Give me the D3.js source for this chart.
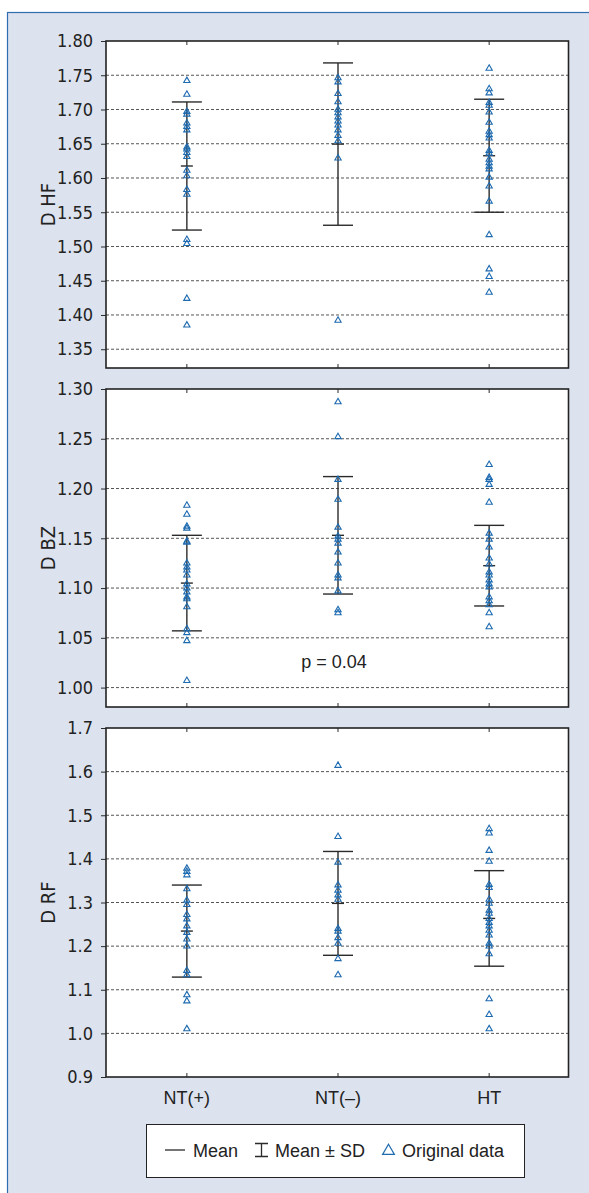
<!DOCTYPE html>
<html>
<head>
<meta charset="utf-8">
<script src="https://cdn.jsdelivr.net/npm/d3@7"></script>
<style>
  body { margin: 0; background: #fff; }
  svg { display: block; }
  .tick text { font-family: "Liberation Sans Narrow", "DejaVu Sans Condensed", "Liberation Sans", sans-serif; font-size: 18px; fill: #222; }
  .lbl { font-family: "Liberation Sans", Arial, sans-serif; font-size: 18px; fill: #222; }
  .ytitle { font-family: "Liberation Sans Narrow", "DejaVu Sans Condensed", "Liberation Sans", sans-serif; font-size: 20px; fill: #222; }
</style>
</head>
<body>
<div id="chart"></div>
<script>
var svgWidth = 589;
var svgHeight = 1193;

// groups on the x axis
var groups = ["NT(+)", "NT(–)", "HT"];

// D HF panel
var hfNTpos = [1.742, 1.722, 1.697, 1.693, 1.680, 1.675, 1.670, 1.645, 1.642, 1.637, 1.631, 1.611, 1.603, 1.583, 1.576, 1.510, 1.504, 1.424, 1.385];
var hfNTneg = [1.746, 1.740, 1.723, 1.711, 1.700, 1.695, 1.689, 1.683, 1.677, 1.670, 1.662, 1.654, 1.629, 1.392];
var hfHT = [1.760, 1.730, 1.724, 1.710, 1.706, 1.696, 1.681, 1.668, 1.663, 1.658, 1.640, 1.636, 1.627, 1.622, 1.617, 1.613, 1.601, 1.588, 1.566, 1.517, 1.467, 1.456, 1.433];
var hfMean = [1.6175, 1.6495, 1.6325];
var hfSD = [0.0935, 0.1185, 0.0825];
var hfTicks = [1.35, 1.40, 1.45, 1.50, 1.55, 1.60, 1.65, 1.70, 1.75, 1.80];

// D BZ panel
var bzNTpos = [1.183, 1.174, 1.162, 1.160, 1.147, 1.146, 1.125, 1.121, 1.118, 1.113, 1.104, 1.100, 1.096, 1.091, 1.089, 1.081, 1.059, 1.055, 1.047, 1.007];
var bzNTneg = [1.287, 1.252, 1.209, 1.189, 1.161, 1.152, 1.149, 1.145, 1.136, 1.125, 1.113, 1.110, 1.097, 1.078, 1.075];
var bzHT = [1.224, 1.211, 1.209, 1.204, 1.186, 1.155, 1.149, 1.141, 1.130, 1.124, 1.116, 1.113, 1.108, 1.104, 1.101, 1.091, 1.087, 1.083, 1.075, 1.061];
var bzMean = [1.105, 1.153, 1.1225];
var bzSD = [0.048, 0.059, 0.0405];
var bzTicks = [1.00, 1.05, 1.10, 1.15, 1.20, 1.25, 1.30];

// D RF panel
var rfNTpos = [1.378, 1.371, 1.363, 1.331, 1.305, 1.295, 1.272, 1.262, 1.246, 1.231, 1.216, 1.200, 1.144, 1.134, 1.088, 1.074, 1.010];
var rfNTneg = [1.614, 1.451, 1.392, 1.340, 1.328, 1.317, 1.307, 1.240, 1.234, 1.219, 1.206, 1.171, 1.134];
var rfHT = [1.469, 1.459, 1.419, 1.394, 1.341, 1.334, 1.307, 1.298, 1.282, 1.275, 1.263, 1.254, 1.246, 1.236, 1.225, 1.206, 1.200, 1.182, 1.079, 1.043, 1.010];
var rfMean = [1.2345, 1.298, 1.2635];
var rfSD = [0.1055, 0.119, 0.1095];
var rfTicks = [0.9, 1.0, 1.1, 1.2, 1.3, 1.4, 1.5, 1.6, 1.7];

var pText = "p = 0.04";

var plotLeft = 106;
var plotRight = 568.5;

var blue = "#1d6ab0";
var dark = "#2b2b2b";

var svg = d3.select("#chart")
  .append("svg")
  .attr("width", svgWidth)
  .attr("height", svgHeight);

// light frame behind everything
svg.append("rect")
  .attr("x", 7.5)
  .attr("y", 12.5)
  .attr("width", svgWidth + 20)
  .attr("height", svgHeight + 20)
  .attr("fill", "#dce2ee")
  .attr("stroke", "#2f6db0")
  .attr("stroke-width", 1.2);

var xScale = d3.scaleLinear()
  .domain([0.465, 3.525])
  .range([plotLeft, plotRight]);

function drawPanel(top, bottom, domain, ticks, fmt, series, means, sds, title) {
  var yScale = d3.scaleLinear().domain(domain).range([bottom, top]);
  var g = svg.append("g");

  g.append("rect")
    .attr("x", plotLeft)
    .attr("y", top)
    .attr("width", plotRight - plotLeft)
    .attr("height", bottom - top)
    .attr("fill", "#fff");

  // dashed grid lines, skip the frame edges
  g.selectAll(".grid")
    .data(ticks.filter(t => yScale(t) > top + 1 && yScale(t) < bottom - 1))
    .enter()
    .append("line")
    .attr("x1", plotLeft)
    .attr("x2", plotRight)
    .attr("y1", d => yScale(d))
    .attr("y2", d => yScale(d))
    .attr("stroke", "#555")
    .attr("stroke-width", 1)
    .attr("stroke-dasharray", "3,2");

  var leftAxis = d3.axisLeft(yScale)
    .tickValues(ticks)
    .tickFormat(d3.format(fmt))
    .tickSize(5)
    .tickPadding(8);

  var yAxis = g.append("g")
    .attr("transform", `translate(${plotLeft}, 0)`)
    .call(leftAxis);
  yAxis.select(".domain").remove();
  yAxis.selectAll(".tick line").attr("stroke", dark);

  // inward ticks at each group, top and bottom
  var cats = [1, 2, 3];
  g.selectAll(".xtickT")
    .data(cats)
    .enter()
    .append("line")
    .attr("x1", d => xScale(d))
    .attr("x2", d => xScale(d))
    .attr("y1", top)
    .attr("y2", top + 4)
    .attr("stroke", dark);
  g.selectAll(".xtickB")
    .data(cats)
    .enter()
    .append("line")
    .attr("x1", d => xScale(d))
    .attr("x2", d => xScale(d))
    .attr("y1", bottom)
    .attr("y2", bottom - 4)
    .attr("stroke", dark);

  // mean +- SD bars
  var bars = g.selectAll(".bar")
    .data(means)
    .enter()
    .append("g");
  bars.append("line")
    .attr("x1", (d, i) => xScale(i + 1))
    .attr("x2", (d, i) => xScale(i + 1))
    .attr("y1", (d, i) => yScale(d + sds[i]))
    .attr("y2", (d, i) => yScale(d - sds[i]))
    .attr("stroke", dark)
    .attr("stroke-width", 1.4);
  bars.append("line")
    .attr("x1", (d, i) => xScale(i + 1) - 15)
    .attr("x2", (d, i) => xScale(i + 1) + 15)
    .attr("y1", (d, i) => yScale(d + sds[i]))
    .attr("y2", (d, i) => yScale(d + sds[i]))
    .attr("stroke", dark)
    .attr("stroke-width", 1.4);
  bars.append("line")
    .attr("x1", (d, i) => xScale(i + 1) - 15)
    .attr("x2", (d, i) => xScale(i + 1) + 15)
    .attr("y1", (d, i) => yScale(d - sds[i]))
    .attr("y2", (d, i) => yScale(d - sds[i]))
    .attr("stroke", dark)
    .attr("stroke-width", 1.4);
  bars.append("line")
    .attr("x1", (d, i) => xScale(i + 1) - 6)
    .attr("x2", (d, i) => xScale(i + 1) + 6)
    .attr("y1", d => yScale(d))
    .attr("y2", d => yScale(d))
    .attr("stroke", dark)
    .attr("stroke-width", 1.4);

  // original data as hollow triangles
  var tri = d3.symbol().type(d3.symbolTriangle).size(17);
  series.forEach(function(vals, i) {
    g.selectAll(null)
      .data(vals)
      .enter()
      .append("path")
      .attr("d", tri)
      .attr("transform", d => `translate(${xScale(i + 1)}, ${yScale(d)})`)
      .attr("fill", "none")
      .attr("stroke", blue)
      .attr("stroke-width", 1.1);
  });

  // frame
  g.append("rect")
    .attr("x", plotLeft)
    .attr("y", top)
    .attr("width", plotRight - plotLeft)
    .attr("height", bottom - top)
    .attr("fill", "none")
    .attr("stroke", "#222")
    .attr("stroke-width", 1.6);

  g.append("text")
    .attr("class", "ytitle")
    .attr("transform", `translate(55, ${(top + bottom) / 2}) rotate(-90)`)
    .attr("text-anchor", "middle")
    .text(title);

  return yScale;
}

drawPanel(41, 368, [1.3226, 1.80], hfTicks, ".2f", [hfNTpos, hfNTneg, hfHT], hfMean, hfSD, "D HF");
var bzY = drawPanel(389, 707, [0.9805, 1.30], bzTicks, ".2f", [bzNTpos, bzNTneg, bzHT], bzMean, bzSD, "D BZ");
drawPanel(728, 1077, [0.9, 1.7], rfTicks, ".1f", [rfNTpos, rfNTneg, rfHT], rfMean, rfSD, "D RF");

svg.append("text")
  .attr("class", "lbl")
  .attr("x", xScale(2) - 4)
  .attr("y", bzY(1.02))
  .attr("text-anchor", "middle")
  .text(pText);

// group labels under the last panel
svg.selectAll(".cat")
  .data(groups)
  .enter()
  .append("text")
  .attr("class", "lbl")
  .attr("x", (d, i) => xScale(i + 1))
  .attr("y", 1104)
  .attr("text-anchor", "middle")
  .text(d => d);

// legend
var legend = svg.append("g");
legend.append("rect")
  .attr("x", 146.5)
  .attr("y", 1124.5)
  .attr("width", 378)
  .attr("height", 53)
  .attr("fill", "#fff")
  .attr("stroke", "#222")
  .attr("stroke-width", 1);

legend.append("line")
  .attr("x1", 165).attr("x2", 185)
  .attr("y1", 1150).attr("y2", 1150)
  .attr("stroke", dark).attr("stroke-width", 1.3);
legend.append("text").attr("class", "lbl").attr("x", 193).attr("y", 1157).text("Mean");

legend.append("path")
  .attr("d", "M255,1143.5H268M261.5,1143.5V1156.5M255,1156.5H268")
  .attr("stroke", dark).attr("stroke-width", 1.3).attr("fill", "none");
legend.append("text").attr("class", "lbl").attr("x", 275).attr("y", 1157).text("Mean ± SD");

legend.append("path")
  .attr("d", d3.symbol().type(d3.symbolTriangle).size(60))
  .attr("transform", "translate(388.5, 1151)")
  .attr("fill", "none")
  .attr("stroke", blue)
  .attr("stroke-width", 1.2);
legend.append("text").attr("class", "lbl").attr("x", 402).attr("y", 1157).text("Original data");
</script>
</body>
</html>
